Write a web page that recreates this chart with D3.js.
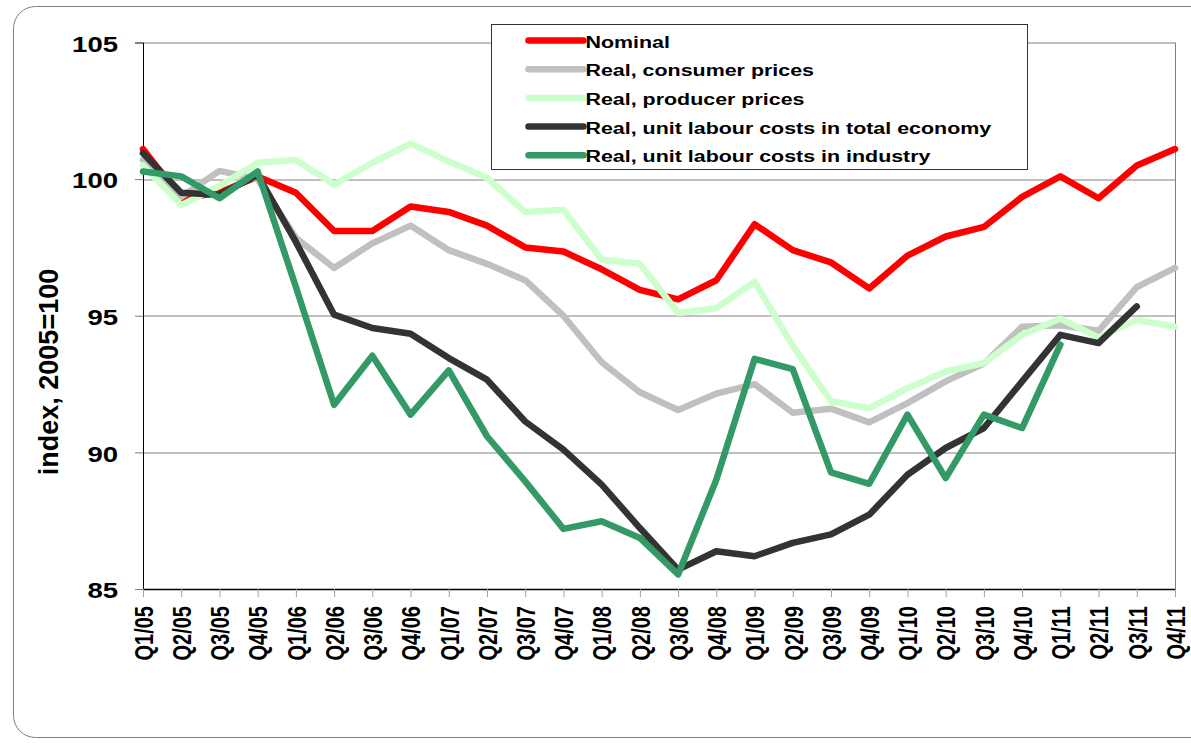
<!DOCTYPE html>
<html>
<head>
<meta charset="utf-8">
<script src="https://cdn.jsdelivr.net/npm/d3@7"></script>
<style>
  body { margin: 0; background: #fff; }
  svg { display: block; font-family: Arial, "Liberation Sans", sans-serif; }
</style>
</head>
<body>
<div id="chart"></div>
<script>
// Quarters
const quarters = ["Q1/05","Q2/05","Q3/05","Q4/05","Q1/06","Q2/06","Q3/06","Q4/06",
  "Q1/07","Q2/07","Q3/07","Q4/07","Q1/08","Q2/08","Q3/08","Q4/08",
  "Q1/09","Q2/09","Q3/09","Q4/09","Q1/10","Q2/10","Q3/10","Q4/10",
  "Q1/11","Q2/11","Q3/11","Q4/11"];

// Series values (index, 2005=100)
const nominal = [101.1, 99.3, 99.5, 100.1, 99.5, 98.1, 98.1, 99.0, 98.8, 98.3, 97.5, 97.35,
  96.7, 95.95, 95.6, 96.3, 98.35, 97.4, 96.95, 96.0, 97.2, 97.9, 98.25, 99.35, 100.1, 99.3, 100.5, 101.1];
const consumer = [100.7, 99.35, 100.3, 100.0, 97.85, 96.75, 97.65, 98.3, 97.4, 96.9, 96.3, 95.0,
  93.3, 92.2, 91.55, 92.15, 92.5, 91.45, 91.6, 91.1, 91.8, 92.6, 93.25, 94.6, 94.65, 94.45, 96.05, 96.75];
const producer = [100.5, 99.05, 99.75, 100.6, 100.7, 99.8, 100.6, 101.3, 100.65, 100.05, 98.8, 98.88,
  97.05, 96.9, 95.1, 95.28, 96.25, 93.9, 91.87, 91.62, 92.35, 92.96, 93.27, 94.3, 94.9, 94.2, 94.85, 94.6];
const ulcTotal = [100.95, 99.5, 99.43, 100.15, 97.7, 95.04, 94.55, 94.34, 93.45, 92.66, 91.13, 90.1,
  88.82, 87.23, 85.71, 86.38, 86.2, 86.69, 87.0, 87.72, 89.18, 90.16, 90.89, 92.6, 94.3, 94.0, 95.34, null];
const ulcIndustry = [100.28, 100.1, 99.3, 100.28, 96.05, 91.74, 93.54, 91.38, 93.0, 90.59, 88.94, 87.2,
  87.48, 86.87, 85.53, 89.0, 93.42, 93.05, 89.27, 88.85, 91.38, 89.06, 91.38, 90.89, 93.94, null, null, null];

const seriesNames = ["Nominal", "Real, consumer prices", "Real, producer prices",
  "Real, unit labour costs in total economy", "Real, unit labour costs in industry"];
const seriesColors = ["#FF0000", "#C0C0C0", "#CCFFCC", "#333333", "#339966"];
const seriesValues = [nominal, consumer, producer, ulcTotal, ulcIndustry];
const yTicks = [85, 90, 95, 100, 105];

// Dimensions
const width = 1191;
const height = 743;
const margin = {top: 42.5, right: 16, bottom: 154, left: 143};
const innerWidth = width - margin.left - margin.right;
const innerHeight = height - margin.top - margin.bottom;

// text in the original is drawn wide (horizontally stretched)
const stretch = 1.28;

const svg = d3.select("#chart")
  .append("svg")
    .attr("width", width)
    .attr("height", height);

// Outer rounded frame
svg.append("rect")
  .attr("x", 13.5).attr("y", 6.5)
  .attr("width", 1200).attr("height", 731)
  .attr("rx", 22).attr("ry", 22)
  .attr("fill", "none")
  .attr("stroke", "#808080")
  .attr("stroke-width", 1);

const innerChart = svg.append("g")
  .attr("transform", `translate(${margin.left}, ${margin.top})`);

// Scales
const xScale = d3.scalePoint()
  .domain(quarters)
  .range([0, innerWidth]);

const yScale = d3.scaleLinear()
  .domain([85, 105])
  .range([innerHeight, 0]);

// Gridlines
innerChart.selectAll(".grid")
  .data(yTicks.filter(d => d > 85))
  .join("line")
    .attr("class", "grid")
    .attr("x1", 0).attr("x2", innerWidth)
    .attr("y1", d => Math.round(yScale(d)) + 0.5)
    .attr("y2", d => Math.round(yScale(d)) + 0.5)
    .attr("stroke", "#808080")
    .attr("stroke-width", 1);

// right border of plot
innerChart.append("line")
  .attr("x1", innerWidth + 0.5).attr("x2", innerWidth + 0.5)
  .attr("y1", 0).attr("y2", innerHeight)
  .attr("stroke", "#808080");

// y-axis
const yAxis = d3.axisLeft(yScale)
  .tickValues(yTicks)
  .tickSize(8);

innerChart.append("g")
  .attr("id", "yaxis")
  .call(yAxis)
  .call(g => g.select(".domain").attr("stroke", "#000"))
  .call(g => g.selectAll(".tick line").attr("stroke", "#808080"))
  .call(g => g.selectAll(".tick text")
    .attr("font-size", 21.5)
    .attr("font-weight", "bold")
    .attr("fill", "#000")
    .attr("x", 0)
    .attr("dy", "0.36em")
    .attr("transform", `translate(-25, 1) scale(${stretch}, 1)`));

// x-axis
const xAxis = d3.axisBottom(xScale)
  .tickSize(8)
  .tickSizeOuter(0);

innerChart.append("g")
  .attr("id", "xaxis")
  .attr("transform", `translate(0, ${innerHeight})`)
  .call(xAxis)
  .call(g => g.select(".domain").attr("stroke", "#000").attr("stroke-width", 1.5))
  .call(g => g.selectAll(".tick line").attr("stroke", "#a0a0a0"))
  .call(g => g.selectAll(".tick text")
    .attr("font-size", 20)
    .attr("font-weight", "bold")
    .attr("fill", "#000")
    .attr("transform", `translate(0, 17) rotate(-90) scale(1, ${stretch})`)
    .attr("text-anchor", "end")
    .attr("x", 0)
    .attr("y", 0)
    .attr("dy", "0.36em"));

// y-axis title
svg.append("text")
  .attr("transform", `translate(48, 372) rotate(-90)`)
  .attr("text-anchor", "middle")
  .attr("dy", "0.36em")
  .attr("font-size", 27)
  .attr("font-weight", "bold")
  .text("index, 2005=100");

// Lines
const line = d3.line()
  .defined(d => d != null)
  .x((d, i) => xScale(quarters[i]))
  .y(d => yScale(d));

seriesValues.forEach((vals, k) => {
  innerChart.append("path")
    .datum(vals)
    .attr("class", `series series-${k}`)
    .attr("fill", "none")
    .attr("stroke", seriesColors[k])
    .attr("stroke-width", 6.5)
    .attr("stroke-linejoin", "round")
    .attr("stroke-linecap", "round")
    .attr("d", line);
});

// Legend
const legend = svg.append("g")
  .attr("transform", "translate(491.5, 24.5)");

legend.append("rect")
  .attr("width", 536)
  .attr("height", 145)
  .attr("fill", "#fff")
  .attr("stroke", "#333")
  .attr("stroke-width", 1);

const legendItems = legend.selectAll(".legend-item")
  .data(seriesNames)
  .join("g")
    .attr("class", "legend-item")
    .attr("transform", (d, i) => `translate(0, ${16 + i * 28.7})`);

legendItems.append("line")
  .attr("x1", 37).attr("x2", 92)
  .attr("stroke", (d, i) => seriesColors[i])
  .attr("stroke-width", 6.5)
  .attr("stroke-linecap", "round");

legendItems.append("text")
  .attr("transform", `translate(94, 1) scale(1.26, 1)`)
  .attr("dy", "0.36em")
  .attr("font-size", 17)
  .attr("font-weight", "bold")
  .text(d => d);
</script>
</body>
</html>
